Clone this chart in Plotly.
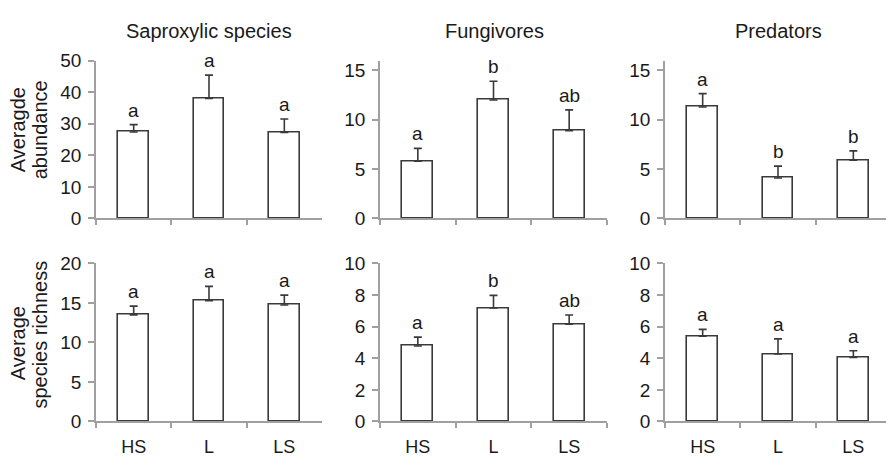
import plotly.graph_objects as go

categories = ["HS", "L", "LS"]
panel_titles = ["Saproxylic species", "Fungivores", "Predators"]

# Top row: average abundance
abund_sapro = [27.4, 38.0, 27.2]
abund_sapro_err = [2.3, 7.4, 4.3]
abund_fungi = [5.8, 12.0, 8.9]
abund_fungi_err = [1.3, 1.9, 2.1]
abund_pred = [11.3, 4.1, 5.9]
abund_pred_err = [1.35, 1.2, 0.95]

# Bottom row: average species richness
rich_sapro = [13.5, 15.3, 14.75]
rich_sapro_err = [1.1, 1.8, 1.25]
rich_fungi = [4.78, 7.18, 6.16]
rich_fungi_err = [0.56, 0.8, 0.58]
rich_pred = [5.4, 4.27, 4.06]
rich_pred_err = [0.43, 0.96, 0.42]

abund_letters = [["a", "a", "a"], ["a", "b", "ab"], ["a", "b", "b"]]
rich_letters = [["a", "a", "a"], ["a", "b", "ab"], ["a", "a", "a"]]

y_ranges = [[0, 50], [0, 16], [0, 16], [0, 20], [0, 10], [0, 10]]
y_dticks = [10, 5, 5, 5, 2, 2]

W, H = 886, 464
FONT = "Liberation Sans, Arial, sans-serif"
TXT = "#1a1a1a"
AX = "#a0a0a0"

x_dom_px = [(96, 322), (380, 607), (665, 886)]
y_dom_px = [(53, 218.3), (265.5, 431)]

panels = [
    (abund_sapro, abund_sapro_err, abund_letters[0]),
    (abund_fungi, abund_fungi_err, abund_letters[1]),
    (abund_pred, abund_pred_err, abund_letters[2]),
    (rich_sapro, rich_sapro_err, rich_letters[0]),
    (rich_fungi, rich_fungi_err, rich_letters[1]),
    (rich_pred, rich_pred_err, rich_letters[2]),
]

fig = go.Figure()
layout = dict(
    width=W, height=H, margin=dict(l=0, r=0, t=0, b=0),
    paper_bgcolor="white", plot_bgcolor="white",
    showlegend=False, bargap=0,
    font=dict(family=FONT, size=18, color=TXT),
)
annotations = []

for i, (vals, errs, letters) in enumerate(panels):
    row, col = divmod(i, 3)
    n = i + 1
    xa = "x" if n == 1 else f"x{n}"
    ya = "y" if n == 1 else f"y{n}"
    fig.add_trace(go.Bar(
        x=categories, y=vals, xaxis=xa, yaxis=ya, width=0.41,
        marker=dict(color="white", line=dict(color="#3a3a3a", width=1.6)),
        error_y=dict(type="data", symmetric=False, array=errs,
                     arrayminus=[0] * len(errs), color="#3a3a3a",
                     thickness=1.6, width=4),
    ))
    for c, v, e, t in zip(categories, vals, errs, letters):
        annotations.append(dict(
            x=c, y=v + e, xref=xa, yref=ya, text=t, showarrow=False,
            yanchor="bottom", yshift=2, font=dict(size=19, color=TXT, family=FONT)))
    x0, x1 = x_dom_px[col]
    y0, y1 = y_dom_px[row]
    xr = [-0.5, 2.5]
    if col == 2:
        xr = [-0.5, 2.5 - (891 - 886) / 75.3]
    layout["xaxis" if n == 1 else f"xaxis{n}"] = dict(
        domain=[x0 / W, x1 / W], anchor=ya, type="category", range=xr,
        showline=True, linecolor=AX, linewidth=1.5, layer="above traces",
        ticks="outside", tickson="boundaries", ticklen=5, tickcolor=AX, tickwidth=1.5,
        showgrid=False, zeroline=False, ticklabelstandoff=8,
        showticklabels=(row == 1), tickfont=dict(size=18, color=TXT, family=FONT),
        fixedrange=True,
    )
    layout["yaxis" if n == 1 else f"yaxis{n}"] = dict(
        domain=[1 - y1 / H, 1 - y0 / H], anchor=xa, range=y_ranges[i],
        dtick=y_dticks[i], tick0=0, layer="above traces",
        showline=True, linecolor=AX, linewidth=1.5,
        ticks="outside", ticklen=6, tickcolor=AX, tickwidth=1.5,
        showgrid=False, zeroline=False, ticklabelstandoff=3,
        tickfont=dict(size=19, color=TXT, family=FONT),
        fixedrange=True,
    )

title_x = [209, 494, 778]
for t, xp in zip(panel_titles, title_x):
    annotations.append(dict(
        x=xp / W, y=1 - 22 / H, xref="paper", yref="paper", text=t, showarrow=False,
        xanchor="center", yanchor="middle", font=dict(size=20, color=TXT, family=FONT)))

ylabel_lines = [("Averagde", 18, 126), ("abundance", 40, 126),
                ("Average", 18, 349), ("species richness", 40, 340)]
for t, xp, yp in ylabel_lines:
    annotations.append(dict(
        x=xp / W, y=1 - yp / H, xref="paper", yref="paper", text=t,
        textangle=-90, showarrow=False, xanchor="center", yanchor="middle",
        font=dict(size=20, color=TXT, family=FONT)))

layout["annotations"] = annotations
fig.update_layout(**layout)
fig.write_html(
    "out.html",
    config={"displayModeBar": False},
    post_script="document.body.style.margin='0';document.body.style.padding='0';document.body.style.overflow='hidden';",
)
